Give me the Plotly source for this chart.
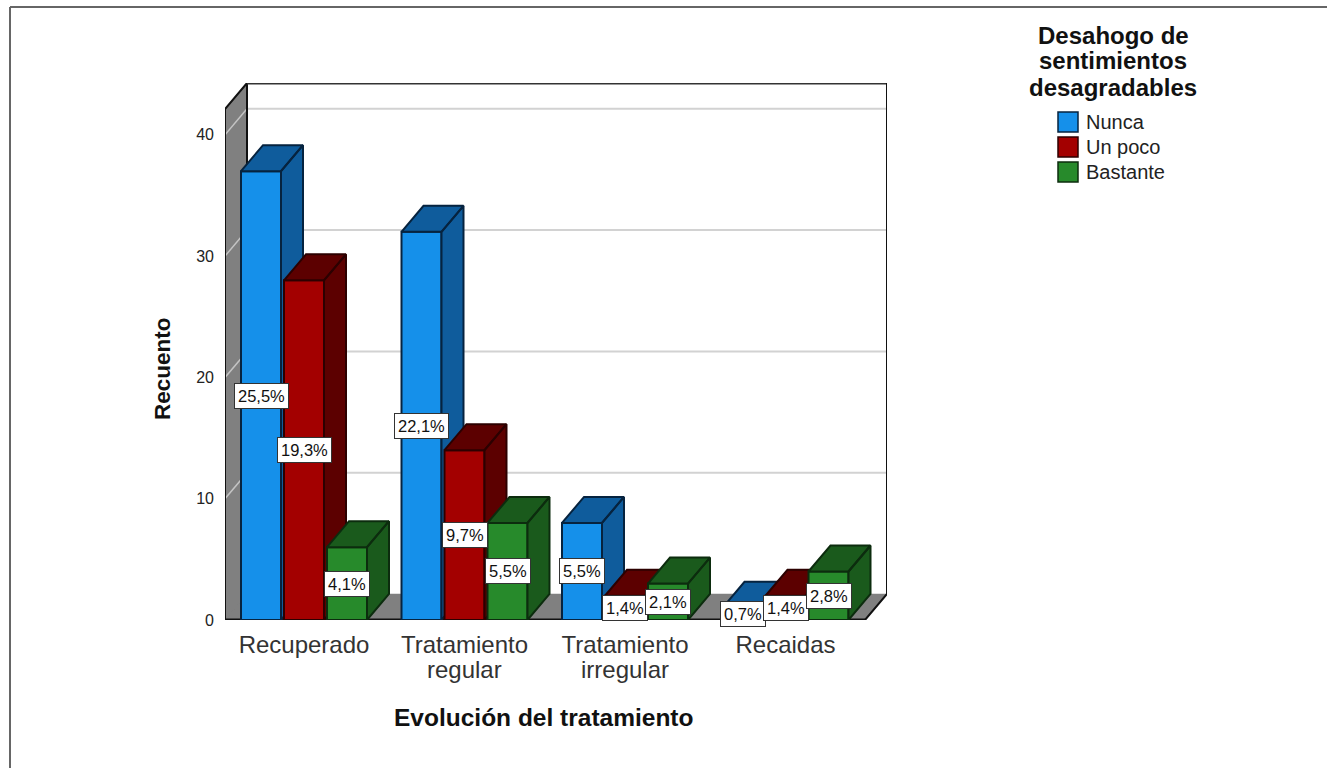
"""
Grouped 3D style bar chart: Evolución del tratamiento / Desahogo de sentimientos.
"""
import plotly.graph_objects as go

# Data
CATEGORIES = [1, 2, 3, 4]
TICK_LINE_1 = ["Recuperado", "Tratamiento", "Tratamiento", "Recaidas"]
TICK_LINE_2 = ["", "regular", "irregular", ""]
SERIES_NAMES = ["Nunca", "Un poco", "Bastante"]
NUNCA = [37, 32, 8, 1]
UN_POCO = [28, 14, 2, 2]
BASTANTE = [6, 8, 3, 4]
NUNCA_PCT = ["25,5%", "22,1%", "5,5%", "0,7%"]
UN_POCO_PCT = ["19,3%", "9,7%", "1,4%", "1,4%"]
BASTANTE_PCT = ["4,1%", "5,5%", "2,1%", "2,8%"]
Y_TICKS = [0, 10, 20, 30, 40]
LEGEND_TITLE = ["Desahogo de", "sentimientos", "desagradables"]

# Front colour, side/top colour, outline
COLORS = [
    ("#1590ea", "#0f5c9c", "#06233f"),
    ("#a30000", "#5c0000", "#2c0000"),
    ("#278a2b", "#1a5a1c", "#0c2c0e"),
]

FONT = "Liberation Sans, Arial, sans-serif"
WIDTH, HEIGHT = 1327, 768
# Plot box in pixels
LEFT, RIGHT, TOP, BOTTOM = 225, 887, 83, 620
CAT_PX = 160.5
UNIT_PX = 12.13
X_MIN = 1 - (304 - LEFT) / CAT_PX
X_MAX = X_MIN + (RIGHT - LEFT) / CAT_PX
Y_MAX = (BOTTOM - TOP) / UNIT_PX
DX = 22 / CAT_PX  # depth of the fake 3D, in axis units
DY = 26 / UNIT_PX
WALL_TOP = Y_MAX - DY
FLOOR_RIGHT = X_MAX - DX
BAR_W = 40 / CAT_PX
BAR_PITCH = 43 / CAT_PX


def px_x(p):
    return (p - LEFT) / (RIGHT - LEFT)


def px_y(p):
    return (BOTTOM - p) / (BOTTOM - TOP)


def polygons(polys, fill, line, xaxis="x", yaxis="y", width=2):
    """One filled scatter trace out of a list of (xs, ys) polygons."""
    xs, ys = [], []
    for px, py in polys:
        xs += list(px) + [px[0], None]
        ys += list(py) + [py[0], None]
    return go.Scatter(
        x=xs, y=ys, mode="lines", fill="toself", fillcolor=fill,
        line=dict(color=line, width=width), xaxis=xaxis, yaxis=yaxis,
        cliponaxis=False, hoverinfo="skip", showlegend=False,
    )


def line_trace(xs, ys, color, width):
    return go.Scatter(
        x=xs, y=ys, mode="lines", line=dict(color=color, width=width),
        cliponaxis=False, hoverinfo="skip", showlegend=False,
    )


fig = go.Figure()

# Walls and floor
fig.add_trace(polygons(
    [([X_MIN, X_MIN + DX, X_MIN + DX, X_MIN], [0, DY, Y_MAX, WALL_TOP]),
     ([X_MIN, X_MIN + DX, X_MAX, FLOOR_RIGHT], [0, DY, DY, 0])],
    "#808080", "#808080", width=0.5,
))
for v in Y_TICKS[1:]:
    fig.add_trace(line_trace([X_MIN, X_MIN + DX], [v, v + DY], "#c4c4c4", 1.5))
    fig.add_trace(line_trace([X_MIN + DX, X_MAX], [v + DY, v + DY], "#d2d2d2", 2))
fig.add_trace(line_trace([X_MIN, X_MIN, X_MIN + DX, X_MIN + DX], [0, WALL_TOP, Y_MAX, DY], "#111111", 2))
fig.add_trace(line_trace([X_MIN + DX, X_MAX], [Y_MAX, Y_MAX], "#333333", 3))
fig.add_trace(line_trace([X_MAX, X_MAX, FLOOR_RIGHT], [Y_MAX, DY, 0], "#111111", 2))
fig.add_trace(line_trace([X_MIN, FLOOR_RIGHT], [0, 0], "#111111", 3))

# One overlaid axis pair per series, so each series paints over the one before
annotations = []
series = [(NUNCA, NUNCA_PCT), (UN_POCO, UN_POCO_PCT), (BASTANTE, BASTANTE_PCT)]
for i, (values, labels) in enumerate(series):
    front, dark, outline = COLORS[i]
    xa, ya = f"x{i + 2}", f"y{i + 2}"
    centers = [c + (i - 1) * BAR_PITCH for c in CATEGORIES]
    fig.add_trace(go.Bar(
        x=centers, y=values, width=BAR_W, name=SERIES_NAMES[i], xaxis=xa, yaxis=ya,
        marker=dict(color=front, line=dict(color=outline, width=2)),
        cliponaxis=False, showlegend=False,
        hovertemplate="%{y}<extra>" + SERIES_NAMES[i] + "</extra>",
    ))
    tops, sides = [], []
    for xc, v in zip(centers, values):
        a, b = xc - BAR_W / 2, xc + BAR_W / 2
        tops.append(([a, b, b + DX, a + DX], [v, v, v + DY, v + DY]))
        sides.append(([b, b, b + DX, b + DX], [0, v, v + DY, DY]))
    fig.add_trace(polygons(tops + sides, dark, outline, xa, ya))
    for xc, v, text in zip(centers, values, labels):
        annotations.append(dict(
            x=xc, y=v / 2, xref="x", yref="y", text=text, showarrow=False,
            font=dict(size=16.5, color="#111111", family=FONT),
            bgcolor="white", bordercolor="#333333", borderwidth=1, borderpad=3,
        ))


def text_at(px, py, text, size, bold=False, color="#111111", angle=0, anchor="center"):
    annotations.append(dict(
        x=px_x(px), y=px_y(py), xref="paper", yref="paper", showarrow=False,
        text=f"<b>{text}</b>" if bold else text, textangle=angle,
        xanchor=anchor, yanchor="middle", font=dict(size=size, color=color, family=FONT),
    ))


# Second lines of the category labels, tighter than a <br> would give
for c, text in zip(CATEGORIES, TICK_LINE_2):
    if text:
        text_at(304 + (c - 1) * CAT_PX, 669, text, 24, color="#333333")

text_at(544, 717, "Evolución del tratamiento", 24.5, bold=True)
text_at(162, 369, "Recuento", 22.5, bold=True, angle=-90)

# Legend
for py, text in zip([35, 61, 87], LEGEND_TITLE):
    text_at(1113, py, text, 24, bold=True)
shapes = []
for i, name in enumerate(SERIES_NAMES):
    py = 122 + i * 25
    shapes.append(dict(
        type="rect", xref="paper", yref="paper",
        x0=px_x(1058), x1=px_x(1078), y0=px_y(py - 10), y1=px_y(py + 10),
        fillcolor=COLORS[i][0], line=dict(color=COLORS[i][2], width=1.5),
    ))
    text_at(1084, py, name, 20, color="#222222", anchor="left")

# Picture frame, only left and top are visible
shapes.append(dict(type="line", xref="paper", yref="paper", x0=px_x(10), x1=px_x(10),
                   y0=px_y(7), y1=px_y(HEIGHT), line=dict(color="#666666", width=2)))
shapes.append(dict(type="line", xref="paper", yref="paper", x0=px_x(10), x1=px_x(WIDTH),
                   y0=px_y(7), y1=px_y(7), line=dict(color="#666666", width=2)))

hidden = dict(visible=False, fixedrange=True)
fig.update_layout(
    width=WIDTH, height=HEIGHT,
    margin=dict(l=LEFT, r=WIDTH - RIGHT, t=TOP, b=HEIGHT - BOTTOM),
    plot_bgcolor="white", paper_bgcolor="white",
    font=dict(family=FONT, color="#222222"),
    showlegend=False, annotations=annotations, shapes=shapes,
    xaxis=dict(
        range=[X_MIN, X_MAX], tickvals=CATEGORIES, ticktext=TICK_LINE_1,
        showgrid=False, zeroline=False, showline=False, ticks="",
        ticklabelstandoff=8, tickangle=0,
        tickfont=dict(size=24, color="#333333", family=FONT),
    ),
    yaxis=dict(
        range=[0, Y_MAX], tickvals=Y_TICKS, showgrid=False, zeroline=False,
        showline=False, ticks="", ticklabelstandoff=10,
        tickfont=dict(size=16, color="#222222", family=FONT),
    ),
)
for n in (2, 3, 4):
    fig.update_layout({
        f"xaxis{n}": dict(range=[X_MIN, X_MAX], overlaying="x", **hidden),
        f"yaxis{n}": dict(range=[0, Y_MAX], overlaying="y", **hidden),
    })

fig.write_html(
    "out.html",
    config={"displayModeBar": False},
    post_script="document.body.style.margin='0';",
)
